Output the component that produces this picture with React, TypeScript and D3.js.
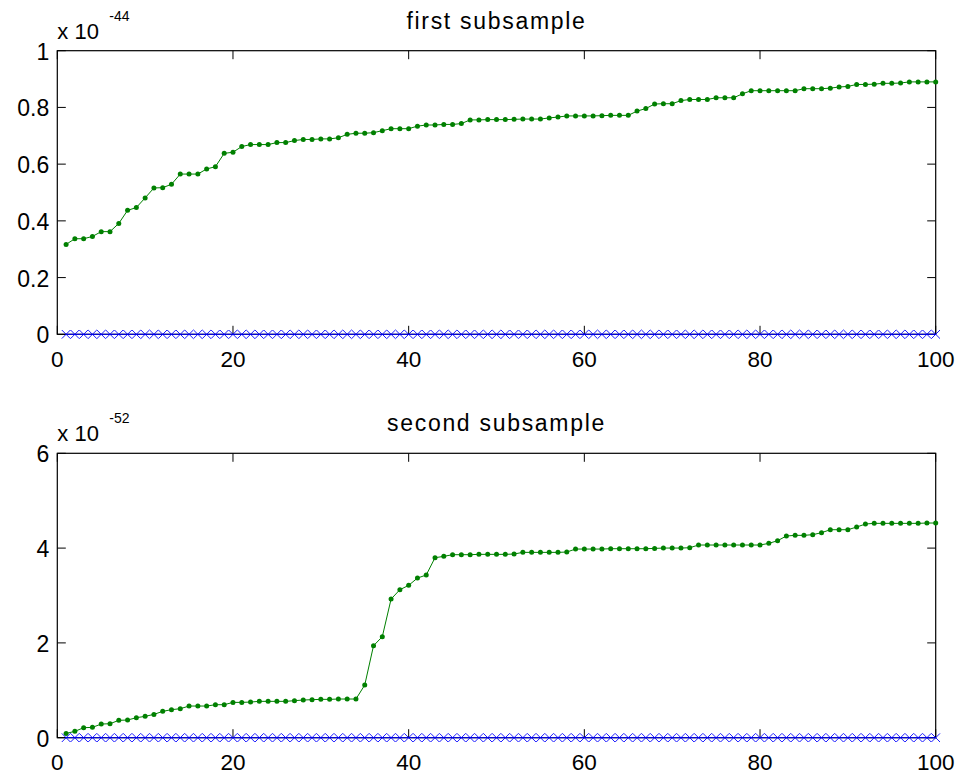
import * as d3 from "d3";

// sorted values, x 10^-44 and x 10^-52
const firstSub = [
  0.317, 0.337, 0.337, 0.345, 0.362, 0.362, 0.391, 0.437, 0.447, 0.481,
  0.516, 0.517, 0.529, 0.565, 0.565, 0.565, 0.583, 0.591, 0.638, 0.642,
  0.662, 0.669, 0.669, 0.669, 0.676, 0.676, 0.683, 0.687, 0.687, 0.689,
  0.689, 0.693, 0.705, 0.709, 0.709, 0.711, 0.718, 0.725, 0.725, 0.725,
  0.734, 0.738, 0.738, 0.74, 0.74, 0.743, 0.756, 0.756, 0.757, 0.757,
  0.757, 0.758, 0.759, 0.759, 0.759, 0.763, 0.766, 0.77, 0.77, 0.77,
  0.77, 0.771, 0.772, 0.772, 0.772, 0.787, 0.796, 0.812, 0.813, 0.813,
  0.824, 0.828, 0.828, 0.828, 0.834, 0.834, 0.834, 0.848, 0.859, 0.859,
  0.859, 0.859, 0.859, 0.859, 0.866, 0.866, 0.866, 0.868, 0.872, 0.874,
  0.881, 0.881, 0.882, 0.885, 0.885, 0.886, 0.89, 0.89, 0.89, 0.89,
];

const secondSub = [
  0.09, 0.134, 0.211, 0.218, 0.288, 0.295, 0.366, 0.373, 0.422, 0.45,
  0.492, 0.556, 0.591, 0.612, 0.668, 0.668, 0.668, 0.696, 0.696, 0.745,
  0.745, 0.752, 0.767, 0.767, 0.767, 0.767, 0.781, 0.795, 0.802, 0.809,
  0.809, 0.816, 0.816, 0.816, 1.111, 1.941, 2.131, 2.925, 3.122, 3.214,
  3.368, 3.432, 3.797, 3.826, 3.861, 3.861, 3.861, 3.868, 3.868, 3.868,
  3.868, 3.875, 3.91, 3.91, 3.91, 3.91, 3.91, 3.917, 3.98, 3.98,
  3.98, 3.98, 3.987, 3.987, 3.987, 3.987, 3.987, 3.994, 4.001, 4.001,
  4.001, 4.008, 4.065, 4.065, 4.065, 4.065, 4.065, 4.065, 4.065, 4.065,
  4.1, 4.156, 4.255, 4.269, 4.269, 4.283, 4.325, 4.388, 4.388, 4.388,
  4.444, 4.508, 4.522, 4.522, 4.522, 4.522, 4.522, 4.522, 4.529, 4.529,
];

// second series sits on zero in both panels
const zeroSeries = firstSub.map(() => 0);

const xTicks = [0, 20, 40, 60, 80, 100];
const firstYTicks = [0, 0.2, 0.4, 0.6, 0.8, 1];
const secondYTicks = [0, 2, 4, 6];

const FONT = "'Liberation Sans', Arial, Helvetica, sans-serif";
const GREEN = "#008000";
const BLUE = "#0000ff";

interface PanelProps {
  title: string;
  exponent: string;
  values: number[];
  yMax: number;
  yTicks: number[];
  top: number;
  bottom: number;
}

function Panel({ title, exponent, values, yMax, yTicks, top, bottom }: PanelProps) {
  const left = 57.3;
  const right = 935.7;
  const x = d3.scaleLinear().domain([0, 100]).range([left, right]);
  const y = d3.scaleLinear().domain([0, yMax]).range([bottom, top]);
  const idx = (i: number) => i + 1;

  const line = d3
    .line<number>()
    .x((_, i) => x(idx(i)))
    .y((d) => y(d));

  const tick = 8.5;
  const fmt = (v: number) => d3.format("~g")(v);

  return (
    <g>
      {/* title and exponent label */}
      <text
        x={(left + right) / 2}
        y={top - 22}
        textAnchor="middle"
        fontSize={23}
        letterSpacing={1.7}
        fontFamily={FONT}
      >
        {title}
      </text>
      <text x={left} y={top - 12} fontSize={22} fontFamily={FONT}>
        x 10
      </text>
      <text x={left + 52} y={top - 30} fontSize={14} fontFamily={FONT}>
        {exponent}
      </text>

      {/* axis box */}
      <rect
        x={left}
        y={top}
        width={right - left}
        height={bottom - top}
        fill="none"
        stroke="#000"
        strokeWidth={1.2}
      />

      {/* x ticks, top and bottom, pointing in */}
      {xTicks.map((t) => (
        <g key={`x${t}`}>
          <line x1={x(t)} x2={x(t)} y1={bottom} y2={bottom - tick} stroke="#000" />
          <line x1={x(t)} x2={x(t)} y1={top} y2={top + tick} stroke="#000" />
          <text
            x={x(t)}
            y={bottom + 32.5}
            textAnchor="middle"
            fontSize={22.5}
            fontFamily={FONT}
          >
            {t}
          </text>
        </g>
      ))}

      {/* y ticks, left and right */}
      {yTicks.map((t) => (
        <g key={`y${t}`}>
          <line x1={left} x2={left + tick} y1={y(t)} y2={y(t)} stroke="#000" />
          <line x1={right} x2={right - tick} y1={y(t)} y2={y(t)} stroke="#000" />
          <text
            x={left - 8}
            y={y(t) + 1}
            textAnchor="end"
            dominantBaseline="central"
            fontSize={23}
            fontFamily={FONT}
          >
            {fmt(t)}
          </text>
        </g>
      ))}

      {/* green series: line with dots */}
      <path d={line(values) ?? ""} fill="none" stroke={GREEN} strokeWidth={1} />
      {values.map((v, i) => (
        <circle key={`g${i}`} cx={x(idx(i))} cy={y(v)} r={2.5} fill={GREEN} />
      ))}

      {/* blue series: line with x markers */}
      <path d={line(zeroSeries) ?? ""} fill="none" stroke={BLUE} strokeWidth={1} />
      {zeroSeries.map((v, i) => {
        const cx = x(idx(i));
        const cy = y(v);
        const s = 4.3;
        return (
          <path
            key={`b${i}`}
            d={`M${cx - s},${cy - s}L${cx + s},${cy + s}M${cx - s},${cy + s}L${cx + s},${cy - s}`}
            stroke={BLUE}
            strokeWidth={0.9}
            fill="none"
          />
        );
      })}
    </g>
  );
}

export default function App() {
  return (
    <svg
      width={962}
      height={775}
      style={{ position: "absolute", left: 0, top: 0, background: "#fff" }}
    >
      <rect width={962} height={775} fill="#fff" />
      <Panel
        title="first subsample"
        exponent="-44"
        values={firstSub}
        yMax={1}
        yTicks={firstYTicks}
        top={50.7}
        bottom={334.3}
      />
      <Panel
        title="second subsample"
        exponent="-52"
        values={secondSub}
        yMax={6}
        yTicks={secondYTicks}
        top={453.3}
        bottom={737.7}
      />
    </svg>
  );
}
